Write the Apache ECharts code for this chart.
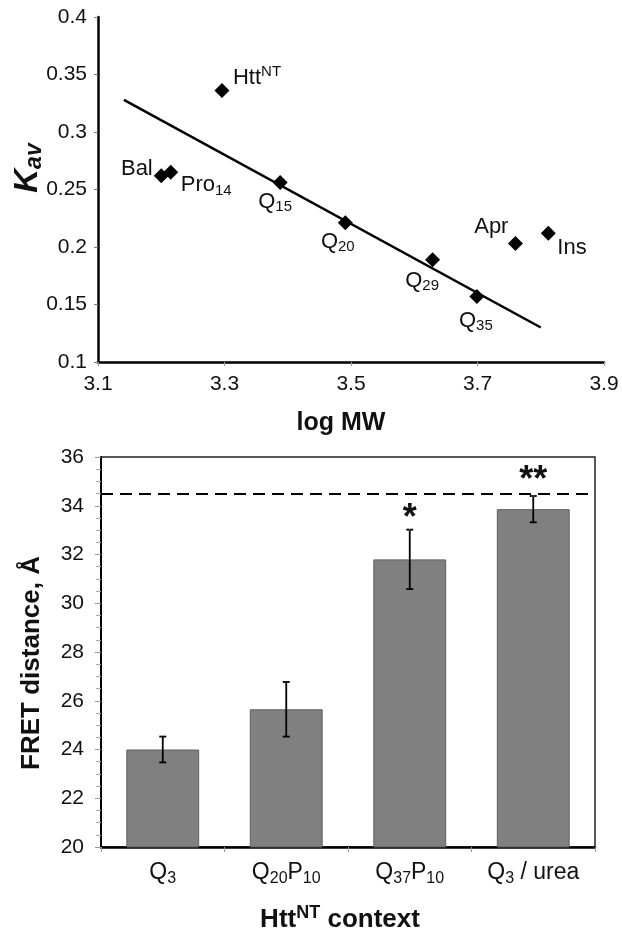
<!DOCTYPE html>
<html><head><meta charset="utf-8">
<script src="https://cdn.jsdelivr.net/npm/echarts@6/dist/echarts.min.js"></script>
<style>html,body{margin:0;padding:0;background:#fff}#c{width:622px;height:933px}</style>
</head><body><div id="c"></div>
<script>
// ---------- Top panel: Kav vs log MW ----------
const pointNames = ['Htt^{NT}', 'Bal', 'Pro_{14}', 'Q_{15}', 'Q_{20}', 'Q_{29}', 'Q_{35}', 'Apr', 'Ins'];
const logMW = [3.296, 3.200, 3.215, 3.388, 3.491, 3.629, 3.699, 3.760, 3.812];
const kav   = [0.336, 0.262, 0.265, 0.256, 0.221, 0.189, 0.157, 0.203, 0.212];
const trendX = [3.141, 3.800];
const trendY = [0.328, 0.130];
const topXRange = [3.1, 3.9, 0.2];
const topYRange = [0.1, 0.4, 0.05];

// ---------- Bottom panel: FRET distance ----------
const contexts = ['Q_{3}', 'Q_{20}P_{10}', 'Q_{37}P_{10}', 'Q_{3} / urea'];
const fretMean = [24.0, 25.65, 31.8, 33.86];
const fretErr  = [0.53, 1.12, 1.22, 0.54];
const significance = ['', '', '*', '**'];
const referenceDistance = 34.5;
const botYRange = [20, 36, 2];

// label placement (style only): [align, dx, dy]
const pointLabelPlacement = [
  ['left', 11, -13], ['right', -8.5, -7], ['left', 10, 13], ['center', -5, 19],
  ['center', -7.5, 19], ['center', -10.5, 21], ['center', -1, 24], ['right', -7, -17], ['left', 9, 15]
];
const sigOffset = [0, 0, -11, -15];

const FONT = '"Liberation Sans", Arial, Helvetica, sans-serif';
const TXT = '#111';
const SYM = 15;
function toRich(s) {
  return s.replace(/\^\{([^}]*)\}/g, '{sup|$1}').replace(/_\{([^}]*)\}/g, '{sub|$1}');
}
function richFor(size, weight, style) {
  const sm = Math.round(size * 0.68);
  return {
    sub: { fontSize: sm, fontWeight: weight, fontStyle: style, fontFamily: FONT, color: TXT, opacity: 1, padding: [Math.round(size * 0.5), 0, 0, 0] },
    sup: { fontSize: sm, fontWeight: weight, fontStyle: style, fontFamily: FONT, color: TXT, opacity: 1, padding: [0, 0, Math.round(size * 0.5), 0] }
  };
}

const chart = echarts.init(document.getElementById('c'), null, { renderer: 'canvas' });

const scatterData = logMW.map((x, i) => ({
  value: [x, kav[i]],
  name: pointNames[i],
  label: { align: pointLabelPlacement[i][0], offset: [pointLabelPlacement[i][1], pointLabelPlacement[i][2]] }
}));

const errData = fretMean.map((m, i) => [i, m - fretErr[i], m + fretErr[i]]);
const sigData = [];
significance.forEach((s, i) => {
  if (s) sigData.push({ value: [i, fretMean[i] + fretErr[i]], sig: s, label: { offset: [0, sigOffset[i]] } });
});

const option = {
  backgroundColor: '#fff',
  animation: false,
  textStyle: { fontFamily: FONT },
  grid: [
    { left: 98, right: 18, top: 17, bottom: 571, outerBoundsMode: 'none', containLabel: false },
    { left: 101, right: 27, top: 457, bottom: 86, outerBoundsMode: 'none', containLabel: false,
      show: true, borderColor: '#222', borderWidth: 1.5, backgroundColor: 'transparent' }
  ],
  xAxis: [
    { type: 'value', gridIndex: 0, min: topXRange[0], max: topXRange[1], interval: topXRange[2],
      axisLine: { show: true, onZero: false, lineStyle: { color: '#000', width: 2.5 } },
      axisTick: { show: true, length: 4, lineStyle: { color: '#999', width: 1 } },
      splitLine: { show: false },
      axisLabel: { fontSize: 21, color: TXT, fontFamily: FONT, margin: 12, formatter: v => v.toFixed(1) } },
    { type: 'category', gridIndex: 1, data: contexts,
      axisLine: { show: true, onZero: false, lineStyle: { color: '#000', width: 2.5 } },
      axisTick: { show: true, length: 5, alignWithLabel: false, lineStyle: { color: '#999', width: 1 } },
      splitLine: { show: false },
      axisLabel: { fontSize: 23, color: TXT, fontFamily: FONT, margin: 12, interval: 0,
        formatter: v => toRich(v), rich: richFor(23, 'normal', 'normal') } }
  ],
  yAxis: [
    { type: 'value', gridIndex: 0, min: topYRange[0], max: topYRange[1], interval: topYRange[2],
      axisLine: { show: true, onZero: false, lineStyle: { color: '#000', width: 2.5 } },
      axisTick: { show: true, length: 4, lineStyle: { color: '#777', width: 1 } },
      splitLine: { show: false },
      axisLabel: { fontSize: 21, color: TXT, fontFamily: FONT, margin: 11, formatter: v => String(parseFloat(v.toFixed(2))) } },
    { type: 'value', gridIndex: 1, min: botYRange[0], max: botYRange[1], interval: botYRange[2],
      axisLine: { show: true, onZero: false, lineStyle: { color: '#000', width: 2 } },
      axisTick: { show: true, length: 6, lineStyle: { color: '#999', width: 1 } },
      minorTick: { show: true, splitNumber: 4, length: 5, lineStyle: { color: '#aaa', width: 1 } },
      splitLine: { show: false }, minorSplitLine: { show: false },
      axisLabel: { fontSize: 21, color: TXT, fontFamily: FONT, margin: 17 } }
  ],
  series: [
    { type: 'line', xAxisIndex: 0, yAxisIndex: 0, data: trendX.map((x, i) => [x, trendY[i]]),
      symbol: 'none', lineStyle: { color: '#000', width: 2.5 }, silent: true, z: 2 },
    { type: 'scatter', xAxisIndex: 0, yAxisIndex: 0, data: scatterData,
      symbol: 'diamond', symbolSize: SYM, itemStyle: { color: '#000', opacity: 1 }, z: 3,
      label: { show: true, position: [SYM / 2, SYM / 2], verticalAlign: 'middle', fontSize: 22, color: TXT,
        fontFamily: FONT, textBorderWidth: 0, opacity: 1,
        formatter: p => toRich(p.name), rich: richFor(22, 'normal', 'normal') } },
    { type: 'bar', xAxisIndex: 1, yAxisIndex: 1, data: fretMean, barWidth: '59%',
      itemStyle: { color: '#808080', borderColor: '#5e5e5e', borderWidth: 1, opacity: 1 },
      markLine: { silent: true, symbol: 'none', label: { show: false },
        lineStyle: { color: '#000', type: [12, 7], width: 2, opacity: 1 },
        data: [{ yAxis: referenceDistance }] } },
    { type: 'custom', xAxisIndex: 1, yAxisIndex: 1, data: errData, z: 5,
      renderItem: (params, api) => {
        const lo = api.coord([api.value(0), api.value(1)]);
        const hi = api.coord([api.value(0), api.value(2)]);
        const w = 3.5, st = { stroke: '#000', lineWidth: 1.8 };
        return { type: 'group', children: [
          { type: 'line', shape: { x1: lo[0], y1: lo[1], x2: hi[0], y2: hi[1] }, style: st },
          { type: 'line', shape: { x1: lo[0] - w, y1: lo[1], x2: lo[0] + w, y2: lo[1] }, style: st },
          { type: 'line', shape: { x1: hi[0] - w, y1: hi[1], x2: hi[0] + w, y2: hi[1] }, style: st }
        ] };
      } },
    { type: 'scatter', xAxisIndex: 1, yAxisIndex: 1, data: sigData, symbolSize: 1, z: 6,
      itemStyle: { color: '#fff', opacity: 1 },
      label: { show: true, position: [0.5, 0.5], align: 'center', verticalAlign: 'middle', fontSize: 36,
        fontWeight: 'bold', color: TXT, fontFamily: FONT, textBorderWidth: 0, opacity: 1,
        formatter: p => p.data.sig } }
  ],
  graphic: [
    { type: 'text', x: 341, y: 423, style: { text: 'log MW', fontSize: 25, fontWeight: 'bold', fontFamily: FONT,
        fill: TXT, align: 'center', verticalAlign: 'middle' } },
    { type: 'text', x: 28, y: 168, rotation: Math.PI / 2, style: { text: toRich('K_{av}'), fontSize: 33, fontWeight: 'bold',
        fontStyle: 'italic', fontFamily: FONT, fill: TXT, align: 'center', verticalAlign: 'middle',
        rich: { sub: { fontSize: 23, fontWeight: 'bold', fontStyle: 'italic', fontFamily: FONT, fill: TXT, padding: [13, 0, 0, 0] } } } },
    { type: 'text', x: 32, y: 663, rotation: Math.PI / 2, style: { text: 'FRET distance, Å', fontSize: 26, fontWeight: 'bold',
        fontFamily: FONT, fill: TXT, align: 'center', verticalAlign: 'middle' } },
    { type: 'text', x: 340, y: 920, style: { text: toRich('Htt^{NT} context'), fontSize: 26, fontWeight: 'bold', fontFamily: FONT,
        fill: TXT, align: 'center', verticalAlign: 'middle',
        rich: { sup: { fontSize: 18, fontWeight: 'bold', fontFamily: FONT, fill: TXT, padding: [0, 0, 13, 0] } } } }
  ]
};
chart.setOption(option);
</script></body></html>
